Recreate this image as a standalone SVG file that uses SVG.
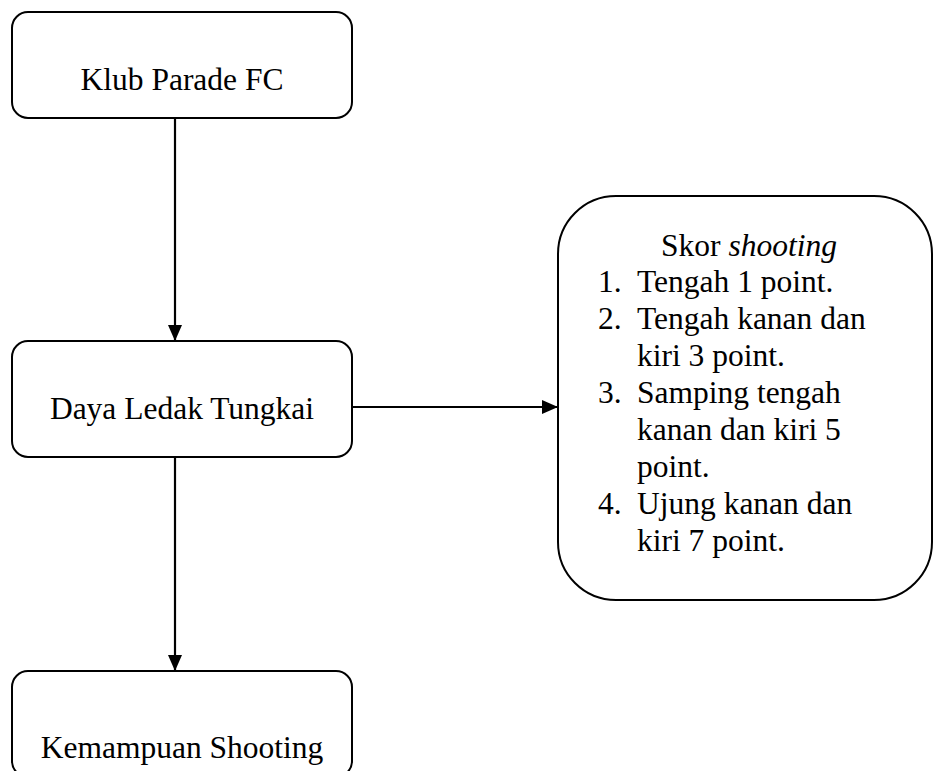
<svg xmlns="http://www.w3.org/2000/svg" width="934" height="771" viewBox="0 0 934 771">
<style>
.box{fill:#fff;stroke:#000;stroke-width:2}
text{font-family:'Liberation Serif','Times New Roman','DejaVu Serif',serif;font-size:31.5px;fill:#000}
.c{text-anchor:middle}
.edge{stroke:#000;stroke-width:2.2;fill:none}
</style>
<defs>
<marker id="ah" viewBox="0 0 16 14" refX="16" refY="7" markerWidth="16" markerHeight="14" markerUnits="userSpaceOnUse" orient="auto">
<path d="M0,0 L16,7 L0,14 z" fill="#000"/>
</marker>
</defs>
<rect width="934" height="771" fill="#fff"/>
<g id="connectors">
<line class="edge" x1="175" y1="118" x2="175" y2="341" marker-end="url(#ah)"/>
<line class="edge" x1="352" y1="407" x2="558" y2="407" marker-end="url(#ah)"/>
<line class="edge" x1="175" y1="457" x2="175" y2="671" marker-end="url(#ah)"/>
</g>
<g id="n1">
<rect class="box" x="12" y="12" width="340" height="106" rx="16"/>
<text class="c" x="182" y="90">Klub Parade FC</text>
</g>
<g id="n2">
<rect class="box" x="12" y="341" width="340" height="116" rx="16"/>
<text class="c" x="182" y="419">Daya Ledak Tungkai</text>
</g>
<g id="n3">
<rect class="box" x="558" y="196" width="374" height="404" rx="58"/>
<text class="c" x="749" y="256">Skor <tspan font-style="italic">shooting</tspan></text>
<text x="598" y="292">1.</text>
<text x="637" y="292">Tengah 1 point.</text>
<text x="598" y="329">2.</text>
<text x="637" y="329">Tengah kanan dan</text>
<text x="637" y="366">kiri 3 point.</text>
<text x="598" y="403">3.</text>
<text x="637" y="403">Samping tengah</text>
<text x="637" y="440">kanan dan kiri 5</text>
<text x="637" y="477">point.</text>
<text x="598" y="514">4.</text>
<text x="637" y="514">Ujung kanan dan</text>
<text x="637" y="551">kiri 7 point.</text>
</g>
<g id="n4">
<rect class="box" x="12" y="671" width="340" height="106" rx="16"/>
<text class="c" x="182" y="758">Kemampuan Shooting</text>
</g>
</svg>
